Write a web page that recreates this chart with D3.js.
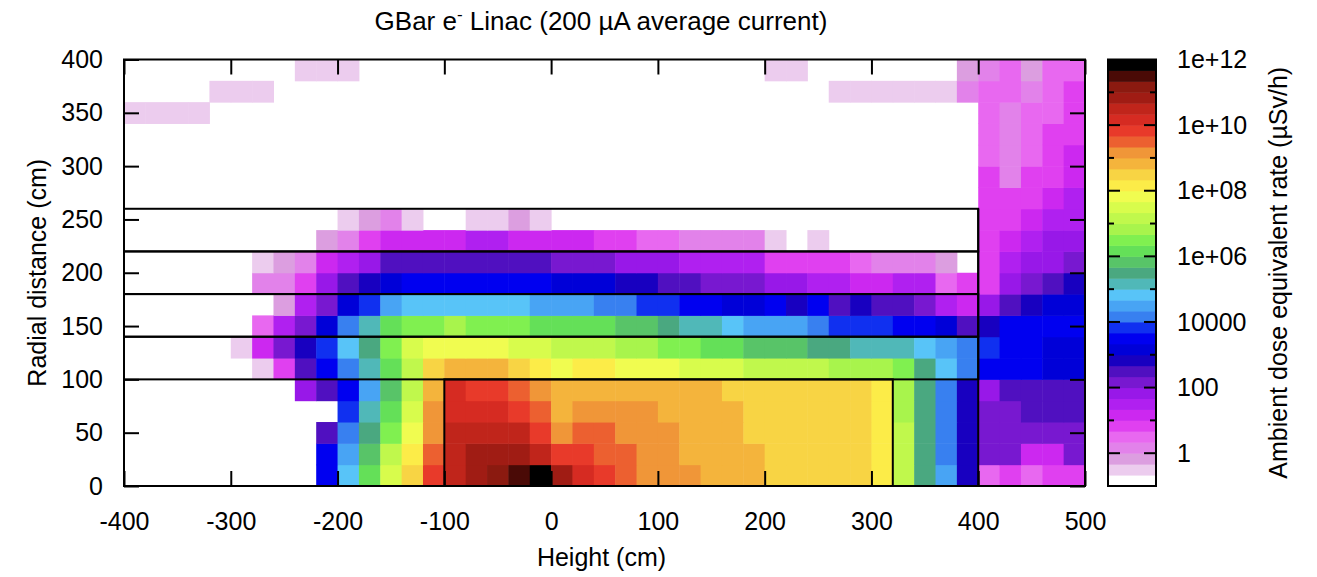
<!DOCTYPE html>
<html><head><meta charset="utf-8">
<script src="https://cdn.jsdelivr.net/npm/d3@7/dist/d3.min.js"></script>
<style>
body{margin:0;background:#fff}
svg text{font-family:"Liberation Sans",Arial,Helvetica,sans-serif;fill:#000}
</style>
</head><body>
<svg id="chart" width="1317" height="577"></svg>
<script>
// Bin lower edges (cm)
const heightBins = [-400,-380,-360,-340,-320,-300,-280,-260,-240,-220,-200,-180,-160,-140,-120,-100,-80,-60,-40,-20,0,20,40,60,80,100,120,140,160,180,200,220,240,260,280,300,320,340,360,380,400,420,440,460,480];
const radialBins = [0,20,40,60,80,100,120,140,160,180,200,220,240,260,280,300,320,340,360,380];
const binSize = 20;
const _ = null;
// log10 of ambient dose equivalent rate (µSv/h), one array per radial row
const r000 = [_,_,_,_,_,_,_,_,_,3.5,4.8,6.2,7.5,8.5,9.8,10.5,10.8,11.2,11.5,11.8,10.8,10.2,9.8,9.5,9.2,9.2,9.2,8.8,8.8,8.8,8.5,8.5,8.5,8.5,8.5,8.2,7.2,5.5,4.5,2.8,0.5,0.8,0.5,0.8,0.8];
const r020 = [_,_,_,_,_,_,_,_,_,3.5,4.5,5.8,7.2,8.2,9.5,10.5,10.8,10.8,10.8,10.5,9.8,9.8,9.5,9.5,9.2,9.2,8.8,8.8,8.8,8.8,8.5,8.5,8.5,8.5,8.5,8.2,7.2,5.5,4.2,2.8,2.2,2.2,1.2,1.2,2.2];
const r040 = [_,_,_,_,_,_,_,_,_,2.5,4.2,5.5,6.5,7.8,9.2,10.5,10.5,10.5,10.5,9.8,9.2,9.5,9.5,9.2,9.2,9.2,8.8,8.8,8.8,8.5,8.5,8.5,8.5,8.5,8.5,8.2,7.2,5.5,4.2,2.8,2.2,2.2,2.2,2.2,2.2];
const r060 = [_,_,_,_,_,_,_,_,_,_,3.8,5.2,6.2,7.5,9.2,10.2,10.2,10.2,9.8,9.5,8.8,9.2,9.2,9.2,9.2,8.8,8.8,8.8,8.8,8.5,8.5,8.5,8.5,8.5,8.5,8.2,6.8,5.5,4.2,2.8,2.2,2.2,2.5,2.5,2.5];
const r080 = [_,_,_,_,_,_,_,_,1.8,2.5,3.5,4.5,5.8,7.2,8.8,10.2,9.8,9.8,9.5,9.2,8.8,8.8,8.8,8.8,8.8,8.8,8.8,8.8,8.5,8.5,8.5,8.5,8.5,8.5,8.5,8.2,6.8,5.5,4.2,2.8,1.8,2.5,2.5,2.5,2.5];
const r100 = [_,_,_,_,_,_,-0.5,0.8,2.5,3.5,4.2,5.2,6.2,7.2,8.5,8.8,8.8,8.8,8.5,8.2,7.8,8.2,8.2,7.8,7.8,7.8,7.5,7.5,7.5,7.2,7.2,7.2,7.2,6.8,6.8,6.8,6.5,5.5,4.8,4.2,3.5,3.5,3.5,3.2,3.2];
const r120 = [_,_,_,_,_,-0.5,1.2,2.2,2.8,3.8,4.8,5.5,6.5,7.5,7.8,7.8,7.8,7.8,7.5,7.5,7.2,7.2,7.2,6.8,6.8,6.5,6.5,6.2,6.2,5.8,5.8,5.8,5.5,5.5,5.2,5.2,5.2,4.8,4.5,4.2,3.8,3.5,3.5,3.2,3.2];
const r140 = [_,_,_,_,_,_,0.5,1.5,2.2,3.2,4.2,5.2,6.2,6.5,6.5,6.8,6.5,6.5,6.5,6.2,6.2,6.2,6.2,5.8,5.8,5.5,5.2,5.2,4.8,4.5,4.5,4.5,4.2,3.8,3.8,3.8,3.5,3.5,3.2,2.5,2.8,3.5,3.5,3.5,3.5];
const r160 = [_,_,_,_,_,_,_,-0.2,1.5,2.2,3.2,3.8,4.5,4.8,4.8,4.8,4.8,4.8,4.8,4.5,4.5,4.5,4.2,4.2,3.8,3.8,3.5,3.5,3.2,3.2,3.5,2.8,3.5,2.5,2.8,2.5,2.5,2.2,1.5,1.2,1.8,2.5,2.8,3.2,3.2];
const r180 = [_,_,_,_,_,_,0.2,0.2,0.8,1.8,2.5,2.8,3.2,3.5,3.5,3.5,3.5,3.5,3.5,3.5,3.2,3.2,3.2,2.8,2.8,2.5,2.5,2.2,2.2,2.2,1.8,1.8,1.5,1.5,1.2,1.2,1.5,1.5,0.5,0.8,0.8,1.8,2.2,2.5,2.8];
const r200 = [_,_,_,_,_,_,-0.5,-0.2,0.2,1.2,1.5,1.8,2.5,2.5,2.5,2.5,2.5,2.5,2.5,2.5,2.2,2.2,2.2,1.8,1.8,1.8,1.5,1.5,1.5,1.5,0.8,0.8,0.8,0.8,0.5,0.2,0.2,0.2,-0.2,_,0.8,1.5,1.8,1.8,2.2];
const r220 = [_,_,_,_,_,_,_,_,_,-0.2,0.2,0.8,1.2,1.2,1.2,1.2,1.5,1.5,1.2,1.2,1.2,1.2,0.8,0.8,0.5,0.5,0.2,0.2,0.2,0.2,-0.5,_,-0.5,_,_,_,_,_,_,_,0.8,1.2,1.5,1.8,1.8];
const r240 = [_,_,_,_,_,_,_,_,_,_,-0.5,-0.2,0.2,-0.5,_,_,-0.5,-0.5,-0.2,-0.5,_,_,_,_,_,_,_,_,_,_,_,_,_,_,_,_,_,_,_,_,0.8,0.8,1.2,1.5,1.5];
const r260 = [_,_,_,_,_,_,_,_,_,_,_,_,_,_,_,_,_,_,_,_,_,_,_,_,_,_,_,_,_,_,_,_,_,_,_,_,_,_,_,_,0.8,0.8,0.8,1.2,1.5];
const r280 = [_,_,_,_,_,_,_,_,_,_,_,_,_,_,_,_,_,_,_,_,_,_,_,_,_,_,_,_,_,_,_,_,_,_,_,_,_,_,_,_,0.8,0.2,0.8,0.8,1.2];
const r300 = [_,_,_,_,_,_,_,_,_,_,_,_,_,_,_,_,_,_,_,_,_,_,_,_,_,_,_,_,_,_,_,_,_,_,_,_,_,_,_,_,0.5,0.2,0.5,0.8,1.2];
const r320 = [_,_,_,_,_,_,_,_,_,_,_,_,_,_,_,_,_,_,_,_,_,_,_,_,_,_,_,_,_,_,_,_,_,_,_,_,_,_,_,_,0.5,0.2,0.5,0.8,0.8];
const r340 = [-0.5,-0.5,-0.5,-0.5,_,_,_,_,_,_,_,_,_,_,_,_,_,_,_,_,_,_,_,_,_,_,_,_,_,_,_,_,_,_,_,_,_,_,_,_,0.5,0.2,0.5,0.5,0.8];
const r360 = [_,_,_,_,-0.5,-0.5,-0.5,_,_,_,_,_,_,_,_,_,_,_,_,_,_,_,_,_,_,_,_,_,_,_,_,_,_,-0.5,-0.5,-0.5,-0.5,-0.5,-0.5,0.2,0.5,0.5,0.2,0.5,0.8];
const r380 = [_,_,_,_,_,_,_,_,-0.5,-0.5,-0.5,_,_,_,_,_,_,_,_,_,_,_,_,_,_,_,_,_,_,_,-0.5,-0.5,_,_,_,_,_,_,_,-0.2,0.2,0.5,-0.2,0.5,0.5];
const doseRows = [r000,r020,r040,r060,r080,r100,r120,r140,r160,r180,r200,r220,r240,r260,r280,r300,r320,r340,r360,r380];

// Palette (39 steps, low -> high), log10 range -1..12
const palette = ["#ffffff","#ecccee","#dc9ee0","#e282ea","#e868f0","#e040f0","#cc28f0","#b020f0","#9818e8","#7818d0","#5010c0","#1800c0","#0000d8","#0000f0","#1030f0","#3880f0","#48a4f4","#58c4f8","#50b8b8","#4aa880","#58c468","#64e058","#80f050","#a8f44c","#c0f84c","#d8fc4c","#f0fc50","#fcec48","#f8d444","#f4b43c","#f09638","#ec6030","#e83a2a","#d62b22","#c0251b","#a01c14","#8b1a10","#4a0a06","#000000"];
const cbDomain = [-1, 12];
const cbTickExps = [0,2,4,6,8,10,12];
const cbTickLabels = ["1","100","10000","1e+06","1e+08","1e+10","1e+12"];
const xTicks = [-400,-300,-200,-100,0,100,200,300,400,500];
const yTicks = [0,50,100,150,200,250,300,350,400];

// Structure outlines (cm): [x0, x1, y0, y1]
const shieldBoxes = [[-400,400,100,140],[-400,400,140,180],[-400,400,180,220],[-400,400,220,260],[-100,320,0,100]];
const shieldLines = [[400,400,0,260]];

const svg = d3.select("#chart");
const L = 124, R = 1085, T = 59.5, B = 486;
const x = d3.scaleLinear().domain([-400,500]).range([L,R]);
const y = d3.scaleLinear().domain([0,400]).range([B,T]);
const color = d3.scaleQuantize().domain(cbDomain).range(palette);

const cells = [];
doseRows.forEach((row,j) => row.forEach((v,i) => { if (v !== null) cells.push({h:heightBins[i], r:radialBins[j], v}); }));

svg.append("g").selectAll("rect").data(cells).join("rect")
  .attr("x", d => x(d.h)).attr("y", d => y(d.r + binSize))
  .attr("width", d => x(d.h + binSize) - x(d.h) + 0.5)
  .attr("height", d => y(d.r) - y(d.r + binSize) + 0.5)
  .attr("fill", d => color(d.v));

// structure outlines
svg.append("g").selectAll("rect").data(shieldBoxes).join("rect")
  .attr("x", d => x(d[0])).attr("y", d => y(d[3]))
  .attr("width", d => x(d[1]) - x(d[0])).attr("height", d => y(d[2]) - y(d[3]))
  .attr("fill","none").attr("stroke","#000").attr("stroke-width",2);
svg.append("g").selectAll("line").data(shieldLines).join("line")
  .attr("x1", d => x(d[0])).attr("x2", d => x(d[1]))
  .attr("y1", d => y(d[2])).attr("y2", d => y(d[3]))
  .attr("stroke","#000").attr("stroke-width",2);

// axes
const fs = 25;
const fmt = d => String(d);
function styleAxis(g){ g.selectAll(".domain").remove(); g.selectAll("line").attr("stroke","#000").attr("stroke-width",2); g.selectAll("text").style("font-size",fs+"px"); }
svg.append("g").attr("transform",`translate(0,${B})`)
  .call(d3.axisBottom(x).tickValues(xTicks).tickSize(-15).tickPadding(26).tickFormat(fmt))
  .call(styleAxis);
svg.append("g").attr("transform",`translate(0,${T})`)
  .call(d3.axisTop(x).tickValues(xTicks).tickSize(-15).tickFormat(""))
  .call(styleAxis);
svg.append("g").attr("transform",`translate(${L},0)`)
  .call(d3.axisLeft(y).tickValues(yTicks).tickSize(-15).tickPadding(21).tickFormat(fmt))
  .call(styleAxis);
svg.append("g").attr("transform",`translate(${R},0)`)
  .call(d3.axisRight(y).tickValues(yTicks).tickSize(-15).tickFormat(""))
  .call(styleAxis);
svg.append("rect").attr("x",L).attr("y",T).attr("width",R-L).attr("height",B-T)
  .attr("fill","none").attr("stroke","#000").attr("stroke-width",2);

// colorbar
const cbL = 1108, cbR = 1156;
const cy = d3.scaleLinear().domain(cbDomain).range([B, T]);
const step = (cbDomain[1]-cbDomain[0]) / palette.length;
svg.append("g").selectAll("rect").data(palette).join("rect")
  .attr("x", cbL).attr("width", cbR-cbL)
  .attr("y", (c,i) => cy(cbDomain[0] + (i+1)*step))
  .attr("height", (c,i) => cy(cbDomain[0] + i*step) - cy(cbDomain[0] + (i+1)*step) + 0.5)
  .attr("fill", c => c);
const cbAll = d3.range(cbDomain[0]+1, cbDomain[1]);
const cbg = svg.append("g");
cbAll.forEach(e => {
  const len = cbTickExps.includes(e) ? 12 : 6;
  cbg.append("line").attr("x1",cbL).attr("x2",cbL+len).attr("y1",cy(e)).attr("y2",cy(e)).attr("stroke","#000").attr("stroke-width",2);
  cbg.append("line").attr("x1",cbR-len).attr("x2",cbR).attr("y1",cy(e)).attr("y2",cy(e)).attr("stroke","#000").attr("stroke-width",2);
});
svg.append("rect").attr("x",cbL).attr("y",T).attr("width",cbR-cbL).attr("height",B-T)
  .attr("fill","none").attr("stroke","#000").attr("stroke-width",2);
svg.append("g").selectAll("text").data(cbTickExps).join("text")
  .attr("x", 1177).attr("y", e => cy(e)).attr("dy","0.35em")
  .style("font-size",fs+"px").text((e,i) => cbTickLabels[i]);

// titles
const title = svg.append("text").attr("x", 601).attr("y", 30).attr("text-anchor","middle").style("font-size","26px");
title.append("tspan").text("GBar e");
title.append("tspan").attr("dy",-10).style("font-size","17px").text("-");
title.append("tspan").attr("dy",10).text(" Linac (200 µA average current)");
svg.append("text").attr("x", (L+R)/2 - 3).attr("y", 566).attr("text-anchor","middle").style("font-size",fs+"px").text("Height (cm)");
svg.append("text").attr("transform",`translate(46,${(T+B)/2}) rotate(-90)`).attr("text-anchor","middle").style("font-size",fs+"px").text("Radial distance (cm)");
svg.append("text").attr("transform",`translate(1287,${(T+B)/2}) rotate(-90)`).attr("text-anchor","middle").style("font-size",fs+"px").text("Ambient dose equivalent rate (µSv/h)");
</script>
</body></html>
